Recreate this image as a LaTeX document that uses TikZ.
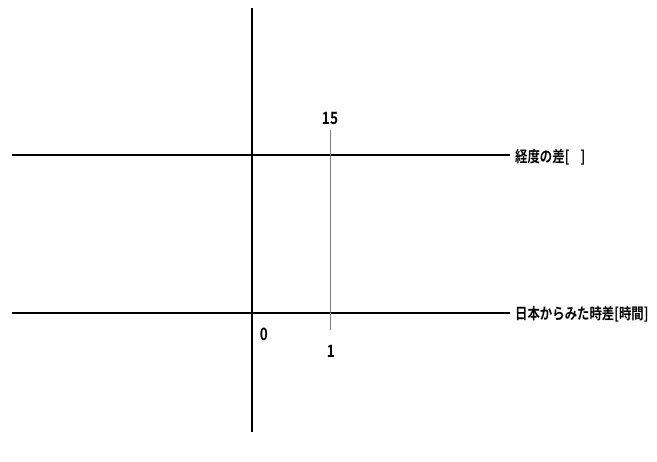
\documentclass[tikz,border=0pt]{standalone}
\usepackage{fontspec}
\newfontfamily\jpfont{Noto Sans CJK JP Bold}
\begin{document}
\begin{tikzpicture}[line join=round,line cap=butt,x=1pt,y=-1pt,
		font=\jpfont\fontsize{15.5}{17}\selectfont,
		axis/.style={line width=2.8pt},
		guide/.style={gray,line width=0.9pt},
		lbl/.style={inner sep=0pt,xscale=0.8},
		num/.style={inner sep=0pt,xscale=0.8,font=\jpfont\fontsize{17}{19}\selectfont}]
			\useasboundingbox (0,0) rectangle (657,462);
			% axes
			\coordinate (vtop) at (252,8);
			\coordinate (vbot) at (252,432);
			\coordinate (ul) at (12,155);
			\coordinate (ur) at (510,155);
			\coordinate (ll) at (12,313);
			\coordinate (lr) at (510,313);
			\draw[axis] (vtop) -- (vbot);
			\draw[axis] (ul) -- (ur);
			\draw[axis] (ll) -- (lr);
			\node[lbl,anchor=west] (deg) at (515,157) {経度の差[\hspace{0.9em}]};
			\node[lbl,anchor=west] (hrs) at (515,314) {日本からみた時差[時間]};
			% correspondence
			\node[num] (n15) at (330,118) {15};
			\node[num] (n1) at (331,351) {1};
			\node[num] (n0) at (264,334) {0};
			\draw[guide] (330,130) -- (330,330);
	\end{tikzpicture}
\end{document}
